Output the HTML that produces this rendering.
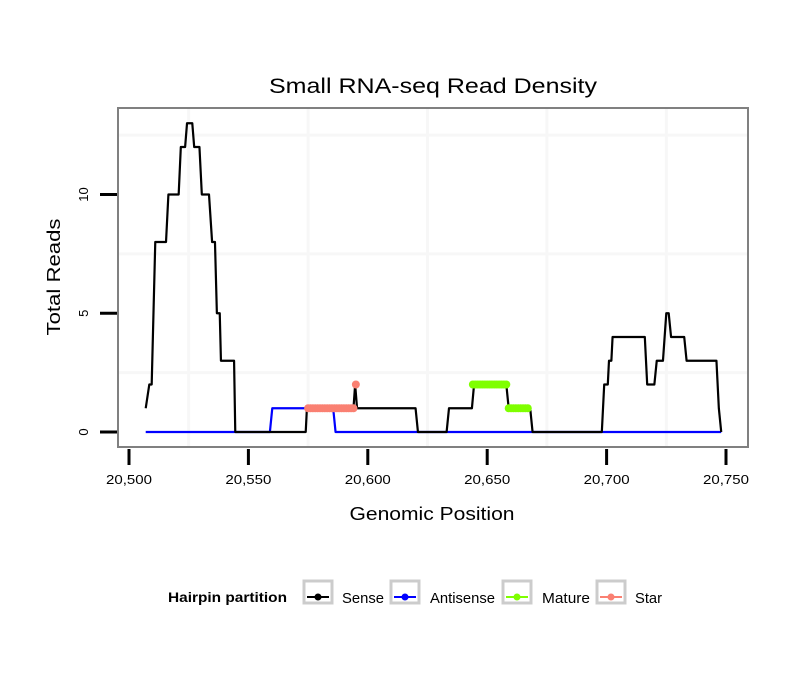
<!DOCTYPE html>
<html><head><meta charset="utf-8"><style>
body{margin:0;background:#fff;}
svg text{font-family:"Liberation Sans",sans-serif;}
</style></head><body>
<svg id="chart" width="810" height="690" xmlns="http://www.w3.org/2000/svg">
<rect width="810" height="690" fill="#fff"/>
<text x="433" y="93" font-size="21" text-anchor="middle" textLength="328" lengthAdjust="spacingAndGlyphs">Small RNA-seq Read Density</text>
<g id="grid"></g>
<g id="series"></g>
<rect x="118" y="108" width="630" height="339" fill="none" stroke="#808080" stroke-width="2"/>
<g id="axes"></g>
<text x="432" y="520" font-size="18" text-anchor="middle" textLength="165" lengthAdjust="spacingAndGlyphs">Genomic Position</text>
<text transform="translate(60,277) rotate(-90)" font-size="18" text-anchor="middle" textLength="117" lengthAdjust="spacingAndGlyphs">Total Reads</text>
<g>
<text x="168" y="602" font-size="14" font-weight="bold" textLength="119" lengthAdjust="spacingAndGlyphs">Hairpin partition</text>
<g><rect x="304" y="581" width="28" height="22" fill="#fff" stroke="#ccc" stroke-width="3"/><line x1="307" y1="597" x2="329" y2="597" stroke="#000" stroke-width="2"/><circle cx="318" cy="597" r="3.5" fill="#000"/><text x="342" y="603" font-size="15" textLength="42" lengthAdjust="spacingAndGlyphs">Sense</text></g>
<g><rect x="391" y="581" width="28" height="22" fill="#fff" stroke="#ccc" stroke-width="3"/><line x1="394" y1="597" x2="416" y2="597" stroke="#00f" stroke-width="2"/><circle cx="405" cy="597" r="3.5" fill="#00f"/><text x="430" y="603" font-size="15" textLength="65" lengthAdjust="spacingAndGlyphs">Antisense</text></g>
<g><rect x="503" y="581" width="28" height="22" fill="#fff" stroke="#ccc" stroke-width="3"/><line x1="506" y1="597" x2="528" y2="597" stroke="#7fff00" stroke-width="2"/><circle cx="517" cy="597" r="3.5" fill="#7fff00"/><text x="542" y="603" font-size="15" textLength="48" lengthAdjust="spacingAndGlyphs">Mature</text></g>
<g><rect x="597" y="581" width="28" height="22" fill="#fff" stroke="#ccc" stroke-width="3"/><line x1="600" y1="597" x2="622" y2="597" stroke="#fa8072" stroke-width="2"/><circle cx="611" cy="597" r="3.5" fill="#fa8072"/><text x="635" y="603" font-size="15" textLength="27" lengthAdjust="spacingAndGlyphs">Star</text></g>
</g>
</svg>
<script>
const xTicks=[20500,20550,20600,20650,20700,20750];
const xTickLabels=["20,500","20,550","20,600","20,650","20,700","20,750"];
const yTicks=[0,5,10];
const yTickLabels=["0","5","10"];
const senseX=[20507,20508.5,20509.5,20510,20511,20515.5,20516.5,20520.8,20521.7,20523.5,20524.3,20526.5,20527.3,20529.5,20530.5,20533.5,20534.8,20536,20536.8,20538,20538.5,20544,20544.5,20574,20574.5,20594,20594.7,20595.5,20620,20621,20633,20634,20643.6,20644.5,20658,20659,20668,20669,20698,20699,20700.5,20701,20702,20702.5,20716,20717,20720,20721,20723.6,20725,20726,20727,20732.5,20733.5,20746,20747,20748];
const senseY=[1,2,2,4,8,8,10,10,12,12,13,13,12,12,10,10,8,8,5,5,3,3,0,0,1,1,2,1,1,0,0,1,1,2,2,1,1,0,0,2,2,3,3,4,4,2,2,3,3,5,5,4,4,3,3,1,0];
const antiX=[20507,20559,20560,20585.5,20586.5,20748];
const antiY=[0,0,1,1,0,0];
const starPos=[20575,20576,20577,20578,20579,20580,20581,20582,20583,20584,20585,20586,20587,20588,20589,20590,20591,20592,20593,20594,20595];
const starVal=[1,1,1,1,1,1,1,1,1,1,1,1,1,1,1,1,1,1,1,1,2];
const matPos=[20644,20645,20646,20647,20648,20649,20650,20651,20652,20653,20654,20655,20656,20657,20658,20659,20660,20661,20662,20663,20664,20665,20666,20667];
const matVal=[2,2,2,2,2,2,2,2,2,2,2,2,2,2,2,1,1,1,1,1,1,1,1,1];
const gridX=[20525,20575,20625,20675,20725];
const gridY=[2.5,7.5,12.5];

const NS="http://www.w3.org/2000/svg";
const sx=v=>129+(v-20500)*2.388;
const sy=v=>432-v*23.75;
function mk(tag,attrs,parent){const e=document.createElementNS(NS,tag);for(const k in attrs)e.setAttribute(k,attrs[k]);parent.appendChild(e);return e;}
const grid=document.getElementById('grid'),series=document.getElementById('series'),axes=document.getElementById('axes');
mk('rect',{x:118,y:108,width:630,height:339,fill:'#fff'},grid);
gridX.forEach(v=>{const l=mk('line',{x1:sx(v),x2:sx(v),y1:108,y2:447,stroke:'#f7f7f7','stroke-width':3},grid);

});
gridY.forEach(v=>{const l=mk('line',{x1:118,x2:748,y1:sy(v),y2:sy(v),stroke:'#f7f7f7','stroke-width':3},grid);

});
function line(xs,ys,color,name){const p=mk('polyline',{points:xs.map((x,i)=>sx(x)+','+sy(ys[i])).join(' '),fill:'none',stroke:color,'stroke-width':2.2,'stroke-linejoin':'round'},series);

}
line(antiX,antiY,'#0000ff','antisense-line');
line(senseX,senseY,'#000','sense-line');
function pts(xs,ys,color,name){xs.forEach((x,i)=>{const c=mk('circle',{cx:sx(x),cy:sy(ys[i]),r:4,fill:color},series);

});}
pts(starPos,starVal,'#fa8072','star-point');
pts(matPos,matVal,'#7fff00','mature-point');
xTicks.forEach((v,i)=>{const t=mk('line',{x1:sx(v),x2:sx(v),y1:449,y2:465,stroke:'#000','stroke-width':3},axes);


const l=mk('text',{x:sx(v),y:484,'font-size':13,'text-anchor':'middle',textLength:46,lengthAdjust:'spacingAndGlyphs'},axes);l.textContent=xTickLabels[i];

});
yTicks.forEach((v,i)=>{const t=mk('line',{x1:100,x2:117,y1:sy(v),y2:sy(v),stroke:'#000','stroke-width':3},axes);


const l=mk('text',{transform:`translate(88,${sy(v)}) rotate(-90)`,'font-size':13,'text-anchor':'middle'},axes);l.textContent=yTickLabels[i];

});
</script>
</body></html>
